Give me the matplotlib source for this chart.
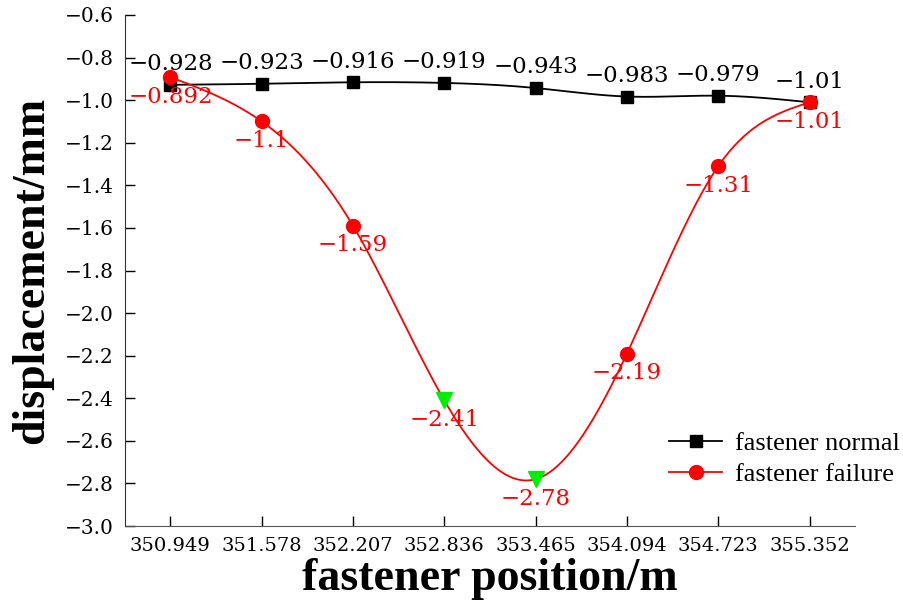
import numpy as np
import matplotlib
matplotlib.use("Agg")
import matplotlib.pyplot as plt
from matplotlib.lines import Line2D

positions = ["350.949", "351.578", "352.207", "352.836", "353.465", "354.094", "354.723", "355.352"]
normal = [-0.928, -0.923, -0.916, -0.919, -0.943, -0.983, -0.979, -1.01]
failure = [-0.892, -1.1, -1.59, -2.41, -2.78, -2.19, -1.31, -1.01]
green_idx = [3, 4]


def spline(x, y, n=400):
    # natural cubic spline through the points, used only to draw the connecting line
    x = np.asarray(x, float)
    y = np.asarray(y, float)
    m = len(x)
    h = np.diff(x)
    A = np.zeros((m, m))
    b = np.zeros(m)
    A[0, 0] = A[-1, -1] = 1
    for i in range(1, m - 1):
        A[i, i - 1] = h[i - 1]
        A[i, i] = 2 * (h[i - 1] + h[i])
        A[i, i + 1] = h[i]
        b[i] = 6 * ((y[i + 1] - y[i]) / h[i] - (y[i] - y[i - 1]) / h[i - 1])
    M = np.linalg.solve(A, b)
    xs = np.linspace(x[0], x[-1], n)
    k = np.clip(np.searchsorted(x, xs) - 1, 0, m - 2)
    t0 = x[k + 1] - xs
    t1 = xs - x[k]
    hk = h[k]
    ys = (M[k] * t0**3 + M[k + 1] * t1**3) / (6 * hk) \
        + (y[k] / hk - M[k] * hk / 6) * t0 + (y[k + 1] / hk - M[k + 1] * hk / 6) * t1
    return xs, ys


def fmt(v):
    return f"{v:g}".replace("-", "\u2212")


num_font = "DejaVu Serif"
txt_font = "Liberation Serif"

fig = plt.figure(figsize=(9.04, 6.12), dpi=100)
ax = fig.add_axes([0.138, 0.1405, 0.808, 0.835])

x = np.arange(len(positions))

xs, ys = spline(x, normal)
ax.plot(xs, ys, color="black", lw=1.3, zorder=2)
xs, ys = spline(x, failure)
ax.plot(xs, ys, color="red", lw=1.3, zorder=2)

ax.plot(x, normal, "s", color="black", ms=8, zorder=3)
red_idx = [i for i in range(len(x)) if i not in green_idx]
ax.plot(x[red_idx], np.array(failure)[red_idx], "o", color="red", ms=10, zorder=4)
ax.plot(x[green_idx], np.array(failure)[green_idx], "v", color="#00ee00", ms=11, zorder=4)

for xi, v in zip(x, normal):
    ax.annotate(fmt(v), (xi, v), xytext=(0, 7), textcoords="offset points",
                ha="center", va="bottom", fontsize=16.5, family=num_font, color="black")
for xi, v in zip(x, failure):
    ax.annotate(fmt(v), (xi, v), xytext=(0, -6), textcoords="offset points",
                ha="center", va="top", fontsize=16.5, family=num_font, color="red")

ax.set_xlim(-0.5, 7.5)
ax.set_ylim(-3.0, -0.6)
ax.set_xticks(x)
ax.set_xticklabels(positions, family=num_font, fontsize=14)
yt = np.arange(-3.0, -0.59, 0.2)
ax.set_yticks(yt)
ax.set_yticklabels([f"{t:.1f}".replace("-", "\u2212") for t in yt], family=num_font, fontsize=14.5)
ax.tick_params(direction="in", length=7, width=1, pad=8)
ax.spines["top"].set_visible(False)
ax.spines["right"].set_visible(False)
ax.spines["left"].set_color("#333333")
ax.spines["bottom"].set_color("#555555")

ax.set_xlabel("fastener position/m", family=txt_font, fontweight="bold", fontsize=33, labelpad=2)
ax.set_ylabel("displacement/mm", family=txt_font, fontweight="bold", fontsize=33, labelpad=8)

handles = [Line2D([], [], color="black", marker="s", ms=8, lw=1.3),
           Line2D([], [], color="red", marker="o", ms=10, lw=1.3)]
fig.legend(handles, ["fastener normal", "fastener failure"], loc="center left",
           bbox_to_anchor=(0.714, 0.25), frameon=False, prop={"family": txt_font, "size": 19},
           handlelength=2.0, handletextpad=0.5, labelspacing=0.3)

fig.savefig("out.png", dpi=100)
